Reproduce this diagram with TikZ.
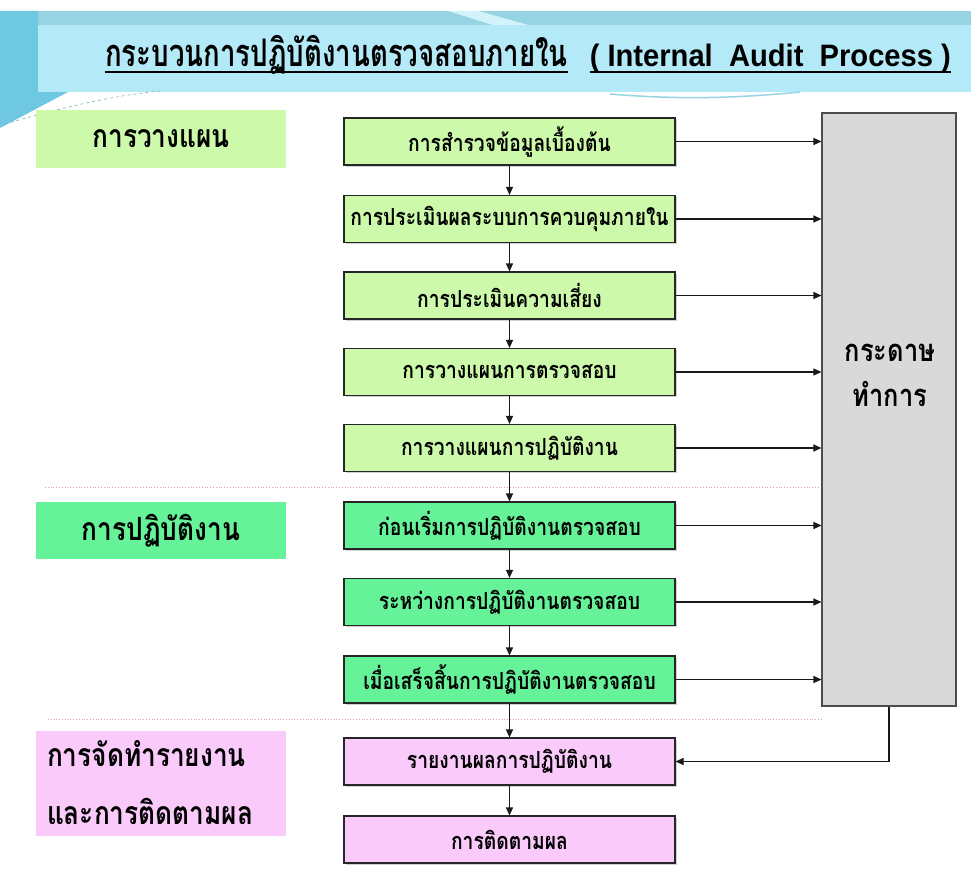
\documentclass[tikz,border=0pt]{standalone}
\usepackage{fontspec}
\usetikzlibrary{arrows.meta,shadows}
\newfontfamily\thaifont[Script=Thai,FakeStretch=0.82]{Loma}
\newfontfamily\thaititle[Script=Thai,FakeStretch=0.727]{Loma}
\newfontfamily\latinfont[FakeStretch=0.94]{Liberation Sans}
\definecolor{lgreen}{RGB}{204,250,170}
\definecolor{mgreen}{RGB}{102,242,152}
\definecolor{lpink}{RGB}{250,202,250}
\definecolor{gbox}{RGB}{217,217,217}
\definecolor{bandA}{RGB}{150,212,228}
\definecolor{bandC}{RGB}{110,200,226}
\definecolor{bandB}{RGB}{180,234,248}
\definecolor{dotred}{RGB}{225,160,160}
\newsavebox\ulbox
\newcommand\myul[1]{\sbox\ulbox{#1}\rlap{\rule[-6pt]{\wd\ulbox}{2.2pt}}\usebox\ulbox}
\tikzset{
  stepbox/.style={draw=black!85, line width=1.1pt, minimum width=331pt, minimum height=47pt,
    inner sep=0pt, font=\thaifont\bfseries\fontsize{23.5}{26}\selectfont,
    drop shadow={shadow xshift=1.5pt, shadow yshift=-1.5pt, fill=black!35}},
  phasebox/.style={minimum width=250pt, inner sep=0pt, font=\thaifont\bfseries\fontsize{32}{58}\selectfont},
  flow/.style={-{Triangle[length=8pt,width=7pt]}, line width=1.1pt, draw=black!90},
  divider/.style={dotted, line width=0.8pt, draw=dotred}
}
\begin{document}
\begin{tikzpicture}[x=1pt,y=-1pt]
\useasboundingbox (0,0) rectangle (971,872);
\fill[white] (0,0) rectangle (971,872);
% top band decoration
\fill[bandA] (0,11) rectangle (971,92);
\fill[bandC] (0,11) -- (38,11) -- (38,92) -- (68,92) -- (0,128) -- cycle;
\fill[bandB!60!white] (448,11) -- (478,11) -- (532,26) -- (496,26) -- cycle;
\fill[bandB] (38,25) rectangle (971,92);
\draw[bandA!80!black, line width=0.6pt, dashed] (5,124) .. controls (60,108) and (110,96) .. (160,91);
\draw[bandA, line width=1.5pt] (610,94) .. controls (680,100) and (740,98) .. (800,92);
% title
\node[anchor=base west, inner sep=0pt] (title) at (105,67) {\thaititle\bfseries\fontsize{38}{42}\selectfont\myul{กระบวนการปฏิบัติงานตรวจสอบภายใน}\hspace{22pt}{\latinfont\bfseries\fontsize{31}{34}\selectfont\myul{( Internal\ \ Audit\ \ Process )}}};
% phase labels
\node[phasebox, fill=lgreen, minimum height=58pt] (p1) at (161,139) {การวางแผน};
\node[phasebox, fill=mgreen, minimum height=57pt] (p2) at (161,530.5) {การปฏิบัติงาน};
\node[phasebox, fill=lpink, minimum height=105pt, text width=228pt, inner xsep=11pt, align=left] (p3) at (161,783) {การจัดทำรายงาน\\และการติดตามผล};
% dividers
\draw[divider] (45,487) -- (822,487);
\draw[divider] (48,719) -- (822,719);
% steps
\node[stepbox, fill=lgreen] (s1) at (509.5,141.5) {การสำรวจข้อมูลเบื้องต้น};
\node[stepbox, fill=lgreen] (s2) at (509.5,219) {การประเมินผลระบบการควบคุมภายใน};
\node[stepbox, fill=lgreen] (s3) at (509.5,295.5) {การประเมินความเสี่ยง};
\node[stepbox, fill=lgreen] (s4) at (509.5,372) {การวางแผนการตรวจสอบ};
\node[stepbox, fill=lgreen] (s5) at (509.5,448) {การวางแผนการปฏิบัติงาน};
\node[stepbox, fill=mgreen] (s6) at (509.5,525.5) {ก่อนเริ่มการปฏิบัติงานตรวจสอบ};
\node[stepbox, fill=mgreen] (s7) at (509.5,602) {ระหว่างการปฏิบัติงานตรวจสอบ};
\node[stepbox, fill=mgreen] (s8) at (509.5,679.5) {เมื่อเสร็จสิ้นการปฏิบัติงานตรวจสอบ};
\node[stepbox, fill=lpink] (s9) at (509.5,761.5) {รายงานผลการปฏิบัติงาน};
\node[stepbox, fill=lpink] (s10) at (509.5,839.5) {การติดตามผล};
% working papers
\node[draw=black!70, line width=1.1pt, fill=gbox, minimum width=134pt, minimum height=593pt, inner sep=0pt] (g) at (889,409.5) {};
\node[font=\thaifont\bfseries\fontsize{31}{45}\selectfont, align=center] (gt) at (890,375) {กระดาษ\\ทำการ};
% vertical flow
\foreach \a/\b in {s1/s2,s2/s3,s3/s4,s4/s5,s5/s6,s6/s7,s7/s8,s8/s9,s9/s10}
  \draw[flow] (\a.south) -- (\b.north);
% horizontal flow to working papers
\foreach \a in {s1,s2,s3,s4,s5,s6,s7,s8}
  \draw[flow] (\a.east) -- (\a.east -| g.west);
% return
\draw[flow] (g.south) |- (s9.east);
\end{tikzpicture}
\end{document}
